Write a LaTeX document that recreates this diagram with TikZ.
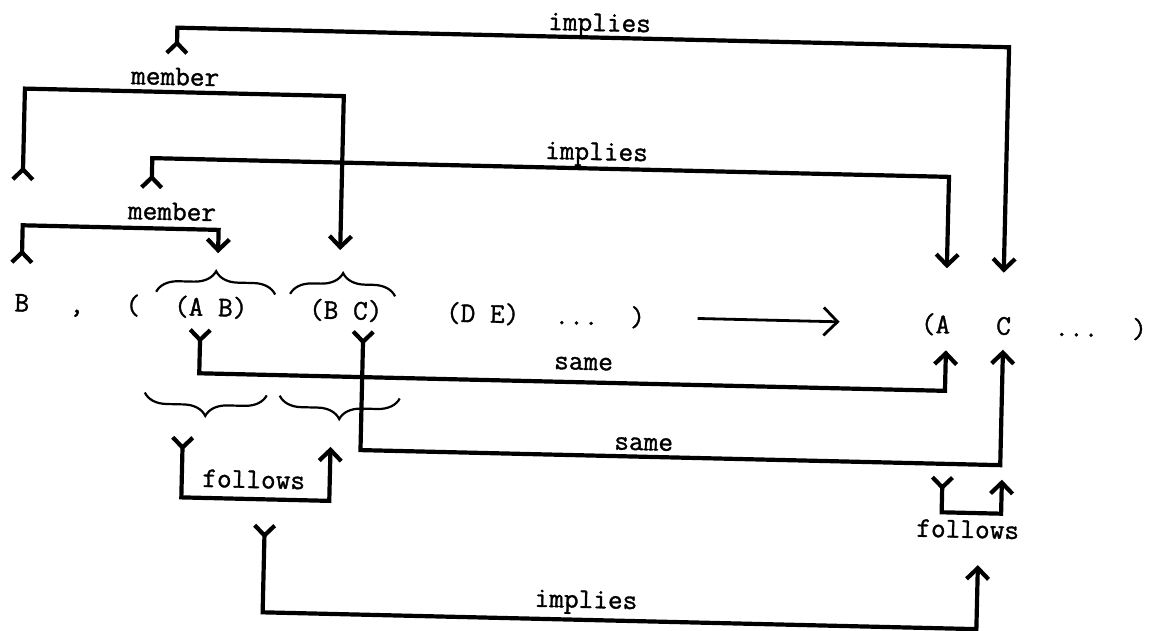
\documentclass[tikz,border=0pt]{standalone}
\usepackage{fontspec}
\newfontfamily\typewr{Latin Modern Mono}[FakeBold=1.2]
\usetikzlibrary{arrows.meta,decorations.pathreplacing}
\tikzset{
  tailtip/.tip={Straight Barb[reversed,length=10pt,width=20pt]},
  headtip/.tip={Straight Barb[length=11pt,width=22pt]},
  bigtip/.tip={Straight Barb[length=14pt,width=28pt]}
}
\begin{document}
\begin{tikzpicture}[x=1pt,y=-1pt,
  txt/.style={font=\fontsize{28.5}{34}\selectfont\typewr, inner sep=0pt, anchor=base},
  conn/.style={line width=4.2pt, tailtip-headtip, line join=miter},
  brc/.style={decorate, decoration={brace, amplitude=22pt}, line width=2.2pt},
  mainarrow/.style={line width=2.8pt, -bigtip}]
\useasboundingbox (0,0) rectangle (1150,631);
\begin{scope}[rotate=-1.35, transform shape]
  % main row
  \node[txt] (nB)     at (29,311)  {B};
  \node[txt] (nComma) at (84,311)  {,};
  \node[txt] (nLp)    at (140,311) {(};
  \node[txt] (nAB)    at (218,311) {(A B)};
  \node[txt] (nBC)    at (353,311) {(B C)};
  \node[txt] (nDE)    at (490,311) {(D E)};
  \node[txt] (nDots)  at (584,311) {...};
  \node[txt] (nRp)    at (645,311) {)};
  \node[txt] (nA2)    at (943,311) {(A};
  \node[txt] (nC2)    at (1011,311) {C};
  \node[txt] (nDots2) at (1084,311) {...};
  \node[txt] (nRp2)   at (1147,311) {)};

  % main arrow
  \coordinate (arrS) at (705,302);
  \coordinate (arrE) at (847,302);
  \draw[mainarrow] (arrS) -- (arrE);

  % braces
  \draw[brc] (163,288) -- (282,288);
  \draw[brc] (297,287) -- (402,287);
  \draw[brc] (276,389) -- (154,389);
  \draw[brc] (409,389) -- (289,389);

  % endpoints
  \coordinate (t1) at (178,51);   \coordinate (h1) at (1010,249);
  \coordinate (t2) at (27,181);   \coordinate (h2) at (346,242);
  \coordinate (t3) at (156,186);  \coordinate (h3) at (953,246);
  \coordinate (t4) at (28,264);   \coordinate (h4) at (224,248);
  \coordinate (t5) at (208,323);  \coordinate (h5) at (954,328);
  \coordinate (t6) at (371,321);  \coordinate (h6) at (1011,326);
  \coordinate (t7) at (193,431);  \coordinate (h7) at (341,439);
  \coordinate (t8) at (953.5,453);\coordinate (h8) at (1013,456);
  \coordinate (t9) at (277,517);  \coordinate (h9) at (991,542);

  % connectors
  \draw[conn] (t1) -- (178,23.5) -| (h1);
  \draw[conn] (t2) -- (27,88) -| (h2);
  \draw[conn] (t3) -- (156,154.5) -| (h3);
  \draw[conn] (t4) -- (28,224.7) -| (h4);
  \draw[conn] (t5) -- (208,368.5) -| (h5);
  \draw[conn] (t6) -- (371,441.5) -| (h6);
  \draw[conn] (t7) -- (193,493) -| (h7);
  \draw[conn] (t8) -- (953.5,490) -| (h8);
  \draw[conn] (t9) -- (277,606) -| (h9);

  % labels
  \node[txt] (lImp1) at (600,17)  {implies};
  \node[txt] (lMem1) at (177,81)  {member};
  \node[txt] (lImp2) at (600,146) {implies};
  \node[txt] (lMem2) at (177,216) {member};
  \node[txt] (lSam1) at (592,356) {same};
  \node[txt] (lSam2) at (654,435) {same};
  \node[txt] (lFol1) at (265,482) {follows};
  \node[txt] (lFol2) at (980,515) {follows};
  \node[txt] (lImp3) at (600,594) {implies};
\end{scope}
\end{tikzpicture}
\end{document}
